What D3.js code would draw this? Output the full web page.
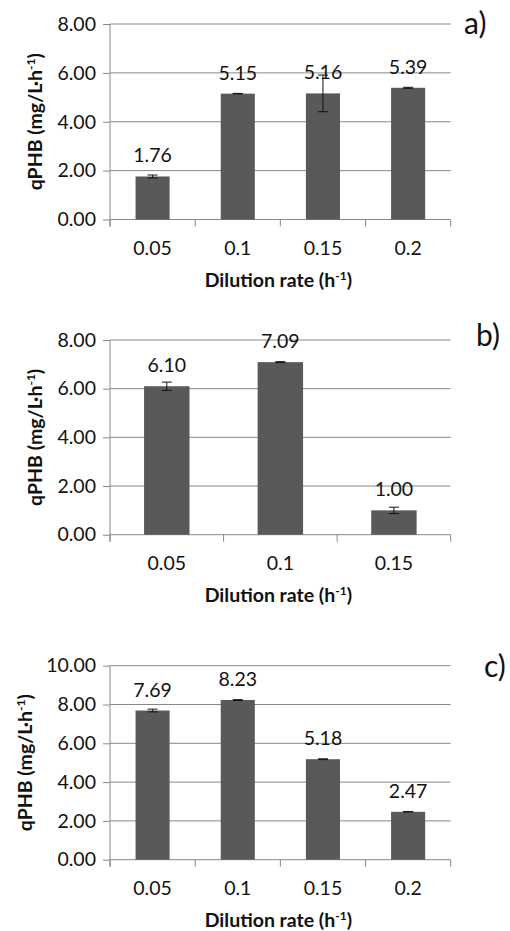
<!DOCTYPE html>
<html>
<head>
<meta charset="utf-8">
<script src="https://cdn.jsdelivr.net/npm/d3@7"></script>
<style>
  body { margin: 0; background: #fff; }
  text { font-family: Lato, "Open Sans", sans-serif; fill: #111; }
</style>
</head>
<body>
<svg id="chart" width="510" height="931"></svg>
<script>
// panel a
const ratesA = ["0.05", "0.1", "0.15", "0.2"];
const qphbA = [1.76, 5.15, 5.16, 5.39];
const errA = [0.06, 0.01, 0.75, 0.02];
const ticksA = [0, 2, 4, 6, 8];

// panel b
const ratesB = ["0.05", "0.1", "0.15"];
const qphbB = [6.10, 7.09, 1.00];
const errB = [0.17, 0.02, 0.13];
const ticksB = [0, 2, 4, 6, 8];

// panel c
const ratesC = ["0.05", "0.1", "0.15", "0.2"];
const qphbC = [7.69, 8.23, 5.18, 2.47];
const errC = [0.07, 0.02, 0.02, 0.01];
const ticksC = [0, 2, 4, 6, 8, 10];

const svg = d3.select("#chart");
const fmt = d3.format(".2f");
const gridColor = "#888888";
const barColor = "#595959";

function drawPanel(opts) {
    const left = 110, right = 450.7;
    const g = svg.append("g");

    const x = d3.scaleBand()
        .domain(opts.cats)
        .range([left, right])
        .paddingInner(0.6)
        .paddingOuter(0.3);

    const yMax = opts.ticks[opts.ticks.length - 1];
    const y = d3.scaleLinear()
        .domain([0, yMax])
        .range([opts.bottom, opts.top]);

    // gridlines
    g.selectAll(".grid")
        .data(opts.ticks.filter(d => d > 0))
        .enter()
        .append("line")
            .attr("x1", left)
            .attr("x2", right)
            .attr("y1", d => y(d))
            .attr("y2", d => y(d))
            .attr("stroke", gridColor)
            .attr("stroke-width", 1);

    // y axis
    const yAxis = d3.axisLeft(y)
        .tickValues(opts.ticks)
        .tickSize(7)
        .tickPadding(7)
        .tickFormat(fmt);
    const ya = g.append("g")
        .attr("transform", "translate(" + left + ",0)")
        .call(yAxis);
    ya.selectAll("path, line").attr("stroke", gridColor);
    ya.select(".domain").attr("d", "M0," + opts.top + "V" + (opts.bottom + 7));
    ya.selectAll("text")
        .attr("font-size", 19.5)
        .attr("font-family", "Lato, sans-serif")
        .attr("fill", "#111");

    // x axis line + boundary ticks
    g.append("line")
        .attr("x1", left).attr("x2", right)
        .attr("y1", y(0)).attr("y2", y(0))
        .attr("stroke", gridColor);
    const step = x.step();
    const bounds = opts.cats.map(c => x(c) - step * 0.3).concat([right]);
    g.selectAll(".xtick")
        .data(bounds)
        .enter()
        .append("line")
            .attr("x1", d => d).attr("x2", d => d)
            .attr("y1", y(0)).attr("y2", y(0) + 7)
            .attr("stroke", gridColor);

    // x tick labels
    g.selectAll(".xlab")
        .data(opts.cats)
        .enter()
        .append("text")
            .attr("x", d => x(d) + x.bandwidth() / 2)
            .attr("y", y(0) + 35)
            .attr("text-anchor", "middle")
            .attr("font-size", 19.5)
            .text(d => d);

    // bars
    g.selectAll(".bar")
        .data(opts.values)
        .enter()
        .append("rect")
            .attr("x", (d, i) => x(opts.cats[i]))
            .attr("width", x.bandwidth())
            .attr("y", d => y(d))
            .attr("height", d => y(0) - y(d))
            .attr("fill", barColor);

    // error bars
    const eb = g.selectAll(".err")
        .data(opts.values.map((v, i) => ({ v: v, e: opts.errs[i], c: opts.cats[i] })))
        .enter()
        .append("g")
            .attr("stroke", "#111")
            .attr("stroke-width", 1);
    eb.append("line")
        .attr("x1", d => x(d.c) + x.bandwidth() / 2)
        .attr("x2", d => x(d.c) + x.bandwidth() / 2)
        .attr("y1", d => y(d.v + d.e))
        .attr("y2", d => y(d.v - d.e));
    eb.append("line")
        .attr("x1", d => x(d.c) + x.bandwidth() / 2 - 5)
        .attr("x2", d => x(d.c) + x.bandwidth() / 2 + 5)
        .attr("y1", d => y(d.v + d.e))
        .attr("y2", d => y(d.v + d.e));
    eb.append("line")
        .attr("x1", d => x(d.c) + x.bandwidth() / 2 - 5)
        .attr("x2", d => x(d.c) + x.bandwidth() / 2 + 5)
        .attr("y1", d => y(d.v - d.e))
        .attr("y2", d => y(d.v - d.e));

    // value labels
    g.selectAll(".val")
        .data(opts.values)
        .enter()
        .append("text")
            .attr("x", (d, i) => x(opts.cats[i]) + x.bandwidth() / 2)
            .attr("y", d => y(d) - 14)
            .attr("text-anchor", "middle")
            .attr("font-size", 19.5)
            .text(d => fmt(d));

    // x title
    const xt = g.append("text")
        .attr("x", (left + right) / 2 - 2)
        .attr("y", y(0) + 67)
        .attr("text-anchor", "middle")
        .attr("font-size", 19.5)
        .attr("font-weight", "bold");
    xt.append("tspan").text("Dilution rate (h");
    xt.append("tspan").attr("dy", -7).attr("font-size", 12).text("-1");
    xt.append("tspan").attr("dy", 7).text(")");

    // y title
    const yt = g.append("text")
        .attr("transform", "translate(" + opts.ytx + "," + ((opts.top + opts.bottom) / 2) + ") rotate(-90)")
        .attr("text-anchor", "middle")
        .attr("font-size", 19.5)
        .attr("font-weight", "bold");
    yt.append("tspan").text("qPHB (mg/L\u00b7h");
    yt.append("tspan").attr("dy", -7).attr("font-size", 12).text("-1");
    yt.append("tspan").attr("dy", 7).text(")");

    // panel tag
    g.append("text")
        .attr("x", opts.tagX)
        .attr("y", opts.tagY)
        .attr("font-size", 30)
        .text(opts.tag);
}

drawPanel({ cats: ratesA, values: qphbA, errs: errA, ticks: ticksA,
    top: 24, bottom: 219.5, ytx: 42, tag: "a)", tagX: 464, tagY: 34 });
drawPanel({ cats: ratesB, values: qphbB, errs: errB, ticks: ticksB,
    top: 340, bottom: 534.7, ytx: 42, tag: "b)", tagX: 476, tagY: 346 });
drawPanel({ cats: ratesC, values: qphbC, errs: errC, ticks: ticksC,
    top: 665.7, bottom: 859.7, ytx: 32, tag: "c)", tagX: 484, tagY: 677 });
</script>
</body>
</html>
